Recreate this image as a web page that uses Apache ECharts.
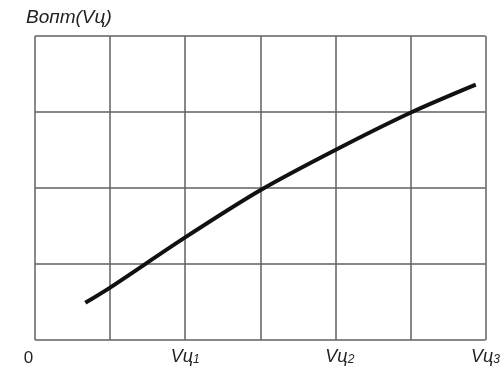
<!DOCTYPE html>
<html>
<head>
<meta charset="utf-8">
<script src="https://cdn.jsdelivr.net/npm/echarts@6/dist/echarts.min.js"></script>
<style>html,body{margin:0;padding:0;background:#fff}#c{width:503px;height:367px}</style>
</head>
<body>
<div id="c"></div>
<script>
// Curve data in grid units (x: 0..6 columns, y: 0..4 rows)
const curveX = [0.67, 1, 2, 3, 4, 5, 5.87];
const curveY = [0.49, 0.69, 1.35, 1.97, 2.50, 2.99, 3.36];
const tickLabels = {0: '0', 2: 'Vц1', 4: 'Vц2', 6: 'Vц3'};
const titleText = 'Bопт(Vц)';

const chart = echarts.init(document.getElementById('c'), null, {renderer: 'canvas'});
const gridColor = '#606060';
chart.setOption({
  animation: false,
  title: {
    text: titleText, left: 21, top: 3,
    textStyle: {fontFamily: 'Liberation Sans, Arial', fontStyle: 'italic', fontWeight: 'normal', fontSize: 19, color: '#222'}
  },
  grid: {left: 35, right: 16, top: 36, bottom: 26},
  xAxis: {
    type: 'value', min: 0, max: 6, interval: 1,
    axisLine: {show: false}, axisTick: {show: false},
    splitLine: {show: true, lineStyle: {color: gridColor, width: 1.5}},
    axisLabel: {
      margin: 8,
      formatter: function (v) {
        if (v === 0) return '{z|0}';
        if (v === 2) return '{v|Vц}{s|1}';
        if (v === 4) return '{p|}{v|Vц}{s|2}';
        if (v === 6) return '{v|Vц}{s|3}';
        return '';
      },
      rich: {
        z: {fontFamily: 'Liberation Sans, Arial', fontSize: 17, color: '#222', padding: [2, 13, 0, 0]},
        v: {fontFamily: 'Liberation Sans, Arial', fontStyle: 'italic', fontSize: 18, color: '#222'},
        s: {fontFamily: 'Liberation Sans, Arial', fontStyle: 'italic', fontSize: 12, color: '#222', padding: [6, 0, 0, 0]},
        p: {width: 9}
      }
    }
  },
  yAxis: {
    type: 'value', min: 0, max: 4, interval: 1,
    axisLine: {show: false}, axisTick: {show: false}, axisLabel: {show: false},
    splitLine: {show: true, lineStyle: {color: gridColor, width: 1.5}}
  },
  series: [{
    type: 'line', smooth: 0.3, showSymbol: false,
    lineStyle: {color: '#111', width: 4},
    data: curveX.map((x, i) => [x, curveY[i]])
  }]
});
</script>
</body>
</html>
